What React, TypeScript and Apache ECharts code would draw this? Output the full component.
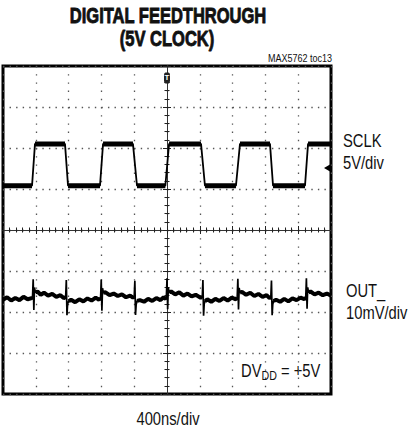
import React, { useEffect, useRef } from "react";
import * as echarts from "echarts";

// time axis in ns (400 ns/div, 10 divisions), vertical axis in screen divisions (8 divisions)
const sclkTime = [-2000, -1646, -1610, -1244, -1207, -817, -780, -415, -366, -20, 25, 415, 463, 841, 890, 1256, 1293, 1683, 1720, 2000];
const sclkLevel = [1.08, 1.08, 2.1, 2.1, 1.08, 1.08, 2.1, 2.1, 1.08, 1.08, 2.1, 2.1, 1.08, 1.08, 2.1, 2.1, 1.08, 1.08, 2.1, 2.1];

const outTime = [
  -2000, -1950, -1900, -1850, -1800, -1750, -1700, -1650,
  -1640, -1632, -1624, -1616, -1606,
  -1580, -1540, -1500, -1450, -1400, -1350, -1300, -1260,
  -1236, -1228, -1220, -1212, -1200,
  -1170, -1120, -1070, -1020, -970, -920, -870, -830,
  -810, -802, -794, -786, -776,
  -750, -700, -650, -600, -550, -500, -450, -415,
  -400, -392, -384, -376, -365,
  -330, -280, -230, -180, -130, -80, -40, -15,
  -8, 0, 8, 16, 26,
  50, 100, 150, 200, 250, 300, 350, 410,
  430, 438, 446, 454, 465,
  490, 540, 590, 640, 690, 740, 790, 840,
  856, 864, 872, 880, 890,
  915, 965, 1015, 1065, 1115, 1165, 1215, 1250,
  1266, 1274, 1282, 1290, 1300,
  1330, 1380, 1430, 1480, 1530, 1580, 1630, 1675,
  1692, 1700, 1708, 1716, 1726,
  1750, 1800, 1850, 1900, 1950, 2000,
];
const outLevel = [
  -1.7, -1.64, -1.72, -1.66, -1.71, -1.63, -1.69, -1.66,
  -1.64, -1.2, -1.95, -1.4, -1.52,
  -1.5, -1.58, -1.53, -1.6, -1.56, -1.63, -1.59, -1.66,
  -1.64, -1.22, -2.08, -1.8, -1.74,
  -1.7, -1.76, -1.69, -1.74, -1.67, -1.72, -1.65, -1.7,
  -1.66, -1.21, -1.97, -1.42, -1.53,
  -1.52, -1.59, -1.55, -1.61, -1.57, -1.64, -1.6, -1.65,
  -1.63, -1.24, -2.07, -1.82, -1.73,
  -1.71, -1.75, -1.68, -1.73, -1.66, -1.71, -1.64, -1.68,
  -1.64, -1.18, -1.93, -1.4, -1.52,
  -1.5, -1.57, -1.52, -1.6, -1.55, -1.62, -1.58, -1.65,
  -1.64, -1.22, -2.09, -1.8, -1.74,
  -1.69, -1.75, -1.68, -1.73, -1.66, -1.72, -1.65, -1.69,
  -1.65, -1.19, -1.94, -1.41, -1.53,
  -1.51, -1.58, -1.53, -1.61, -1.56, -1.63, -1.59, -1.66,
  -1.64, -1.23, -2.08, -1.81, -1.73,
  -1.7, -1.75, -1.68, -1.74, -1.67, -1.71, -1.65, -1.69,
  -1.65, -1.18, -1.92, -1.4, -1.52,
  -1.5, -1.57, -1.53, -1.59, -1.55, -1.6,
];

const titleLines = ["DIGITAL FEEDTHROUGH", "(5V CLOCK)"];
const tocLabel = "MAX5762 toc13";
const sclkLabels = ["SCLK", "5V/div"];
const outLabels = ["OUT_", "10mV/div"];
const supplyLabel = ["DV", "DD", " = +5V"];
const timeLabel = "400ns/div";

const SANS = "'Liberation Sans', Arial, sans-serif";
const INK = "#111";
const NARROW_SCALE = 0.82;

function label(text: string, x: number, y: number, size: number, align: string, extra: any = {}) {
  return {
    type: "text",
    x,
    y,
    scaleX: extra.scaleX ?? NARROW_SCALE,
    style: {
      text,
      fill: INK,
      fontFamily: SANS,
      fontSize: size,
      fontWeight: extra.fontWeight ?? "normal",
      textAlign: align,
      textVerticalAlign: "middle",
      ...(extra.stroke ? { stroke: INK, lineWidth: extra.stroke } : {}),
    },
  };
}

function buildOption() {
  const sclkPoints = sclkTime.map((t, i) => [t, sclkLevel[i]]);
  const bandPoints: any[] = [];
  for (let i = 0; i < sclkTime.length - 1; i++) {
    if (sclkLevel[i] === sclkLevel[i + 1]) {
      bandPoints.push([sclkTime[i], sclkLevel[i]]);
      bandPoints.push([sclkTime[i + 1], sclkLevel[i + 1]]);
      bandPoints.push(null);
    }
  }
  const outPoints = outTime.map((t, i) => [t, outLevel[i]]);
  // noise band: only the baseline points (spike excursions excluded)
  const outBand = outTime.map((t, i) => (outLevel[i] > -1.78 && outLevel[i] < -1.47 ? [t, outLevel[i]] : null));

  const tickStyle = { color: "#222", width: 1 };
  const xBase = {
    type: "value",
    min: -2000,
    max: 2000,
    interval: 400,
    axisLabel: { show: false },
    axisLine: { show: true, onZero: true, onZeroAxisIndex: 0, lineStyle: { color: "#333", width: 1 } },
    axisTick: { show: true, length: 4, lineStyle: tickStyle },
    minorTick: { show: true, splitNumber: 5, length: 2.5, lineStyle: tickStyle },
  };
  const yBase = {
    type: "value",
    min: -4,
    max: 4,
    interval: 1,
    axisLabel: { show: false },
    axisLine: { show: true, onZero: true, onZeroAxisIndex: 0, lineStyle: { color: "#333", width: 1 } },
    axisTick: { show: true, length: 4, lineStyle: tickStyle },
    minorTick: { show: true, splitNumber: 5, length: 2.5, lineStyle: tickStyle },
  };

  // subscripted supply label, placed piece by piece (Liberation Sans = Arial metrics, scaled narrow)
  const dvW = 1.389 * 18 * NARROW_SCALE;
  const ddW = 1.444 * 13 * NARROW_SCALE;
  const supplyX = 241;

  return {
    animation: false,
    backgroundColor: "#fff",
    grid: { left: 3, top: 66, width: 328, height: 328, show: true, borderColor: "#000", borderWidth: 3 },
    xAxis: [
      { ...xBase, position: "bottom", splitLine: { show: true, lineStyle: { color: "#555", width: 1.3, type: [1.4, 6.8] } } },
      { ...xBase, position: "top", splitLine: { show: false } },
    ],
    yAxis: [
      { ...yBase, position: "left", splitLine: { show: true, lineStyle: { color: "#555", width: 1.3, type: [1.4, 5.16] } } },
      { ...yBase, position: "right", splitLine: { show: false } },
    ],
    series: [
      {
        name: "SCLK",
        type: "line",
        xAxisIndex: 0,
        yAxisIndex: 0,
        data: sclkPoints,
        symbol: "none",
        lineStyle: { color: "#000", width: 1.8 },
        z: 5,
        markPoint: {
          data: [
            {
              coord: [0, 3.71],
              symbol: "roundRect",
              symbolSize: [6, 11],
              itemStyle: { color: "#222" },
              label: { show: true, formatter: "T", color: "#fff", fontSize: 8, fontWeight: "bold" },
            },
            {
              coord: [1951, 1.51],
              symbol: "triangle",
              symbolRotate: 90,
              symbolSize: [7, 6],
              itemStyle: { color: "#000" },
              label: { show: false },
            },
          ],
        },
      },
      {
        name: "SCLK band",
        type: "line",
        xAxisIndex: 0,
        yAxisIndex: 0,
        data: bandPoints,
        connectNulls: false,
        symbol: "none",
        lineStyle: { color: "#000", width: 5 },
        z: 5,
      },
      {
        name: "OUT_",
        type: "line",
        xAxisIndex: 0,
        yAxisIndex: 0,
        data: outPoints,
        symbol: "none",
        lineStyle: { color: "#000", width: 1.7 },
        z: 5,
      },
      {
        name: "OUT_ band",
        type: "line",
        xAxisIndex: 0,
        yAxisIndex: 0,
        data: outBand,
        connectNulls: false,
        symbol: "none",
        lineStyle: { color: "#000", width: 4 },
        z: 5,
      },
    ],
    graphic: [
      label(titleLines[0], 168, 15, 22, "center", { fontWeight: "bold", scaleX: 0.75, stroke: 0.9 }),
      label(titleLines[1], 167, 38, 22, "center", { fontWeight: "bold", scaleX: 0.75, stroke: 0.9 }),
      label(tocLabel, 332, 58, 11, "right"),
      label(sclkLabels[0], 343, 140, 18, "left"),
      label(sclkLabels[1], 343, 162, 18, "left"),
      label(outLabels[0], 346, 290, 18, "left"),
      label(outLabels[1], 346, 312, 18, "left"),
      label(supplyLabel[0], supplyX, 370, 18, "left"),
      label(supplyLabel[1], supplyX + dvW, 376, 13, "left"),
      label(supplyLabel[2], supplyX + dvW + ddW, 370, 18, "left"),
      label(timeLabel, 168, 418, 18, "center"),
    ],
  };
}

export default function App() {
  const ref = useRef<HTMLDivElement>(null);
  useEffect(() => {
    if (!ref.current) return;
    const chart = echarts.init(ref.current, undefined, { renderer: "svg" });
    chart.setOption(buildOption() as any);
    return () => chart.dispose();
  }, []);
  return <div ref={ref} style={{ position: "absolute", left: 0, top: 0, width: 409, height: 430, background: "#fff" }} />;
}
